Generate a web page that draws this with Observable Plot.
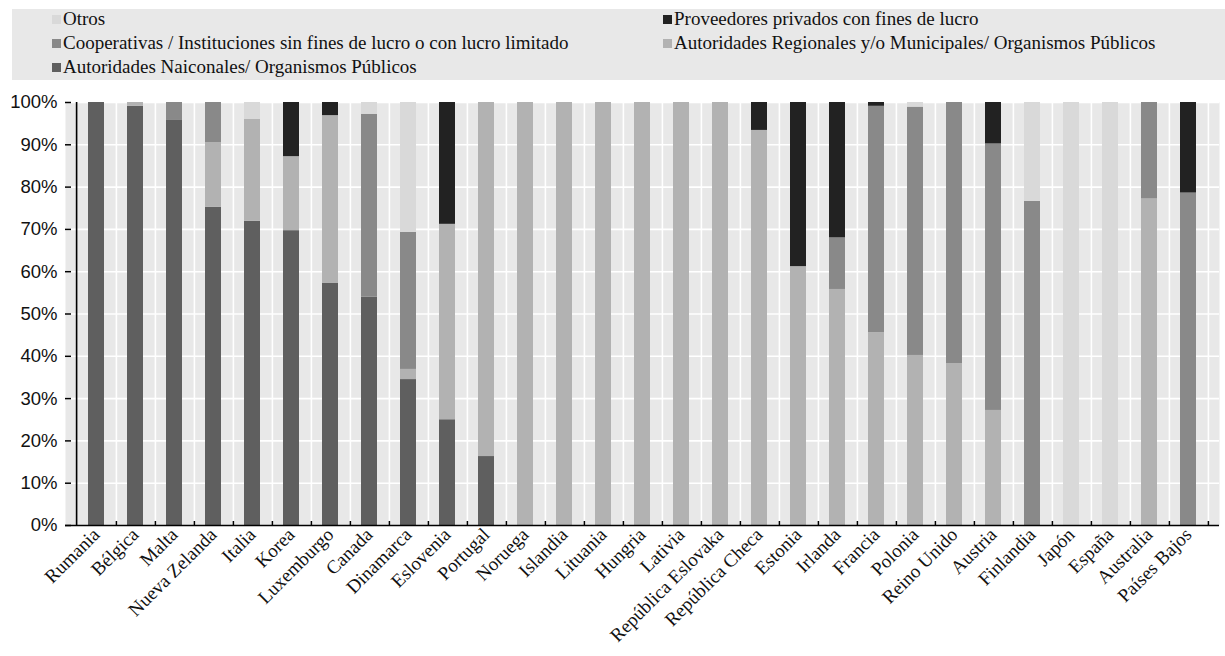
<!DOCTYPE html>
<html>
<head>
<meta charset="utf-8">
<script src="https://cdn.jsdelivr.net/npm/d3@7"></script>
<script src="https://cdn.jsdelivr.net/npm/@observablehq/plot@0.6"></script>
<style>
  html, body { margin: 0; padding: 0; background: #ffffff; }
  #wrap { position: relative; width: 1225px; height: 656px; overflow: hidden; }
  #legend { position: absolute; left: 12px; top: 9px; width: 1213px; height: 71px; background: #e8e8e8;
            font-family: "Liberation Serif", "DejaVu Serif", serif; font-size: 19px; color: #111; }
  .item { position: absolute; display: flex; align-items: center; white-space: nowrap; height: 22px; }
  .sw { width: 9px; height: 9px; margin-right: 2px; display: inline-block; }
  #chart { position: absolute; left: 0; top: 80px; }
</style>
</head>
<body>
<div id="wrap">
  <div id="legend"></div>
  <div id="chart"></div>
</div>
<script>
// ---- Data (percent shares by country) ----
const categories = ["Rumania","Bélgica","Malta","Nueva Zelanda","Italia","Korea","Luxemburgo","Canada","Dinamarca","Eslovenia","Portugal","Noruega","Islandia","Lituania","Hungria","Lativia","República Eslovaka","República Checa","Estonia","Irlanda","Francia","Polonia","Reino Unido","Austria","Finlandia","Japón","España","Australia","Países Bajos"];

const seriesNames = [
  "Autoridades Naiconales/ Organismos Públicos",
  "Autoridades Regionales y/o Municipales/ Organismos Públicos",
  "Cooperativas / Instituciones sin fines de lucro o con lucro limitado",
  "Proveedores privados con fines de lucro",
  "Otros"
];

const nacionales   = [100, 99.1, 95.9, 75.2, 71.9, 69.7, 57.3, 54.0, 34.5, 25.0, 16.3, 0, 0, 0, 0, 0, 0, 0, 0, 0, 0, 0, 0, 0, 0, 0, 0, 0, 0];
const regionales   = [0, 0.9, 0, 15.3, 24.1, 17.5, 39.6, 0, 2.4, 46.2, 83.7, 100, 100, 100, 100, 100, 100, 93.4, 61.2, 55.8, 45.6, 40.2, 38.3, 27.2, 0, 0, 0, 77.2, 0];
const cooperativas = [0, 0, 4.1, 9.5, 0, 0, 0, 43.2, 32.4, 0, 0, 0, 0, 0, 0, 0, 0, 0, 0, 12.2, 53.5, 58.7, 61.7, 63.0, 76.6, 0, 0, 22.8, 78.6];
const privados     = [0, 0, 0, 0, 0, 12.8, 3.1, 0, 0, 28.8, 0, 0, 0, 0, 0, 0, 0, 6.6, 38.8, 32.0, 0.9, 0, 0, 9.8, 0, 0, 0, 0, 21.4];
const otros        = [0, 0, 0, 0, 4.0, 0, 0, 2.8, 30.7, 0, 0, 0, 0, 0, 0, 0, 0, 0, 0, 0, 0, 1.1, 0, 0, 23.4, 100, 100, 0, 0];

const yTicks = [0, 0.1, 0.2, 0.3, 0.4, 0.5, 0.6, 0.7, 0.8, 0.9, 1.0];

// Legend layout order (rows, two columns)
const legendOrder = [
  ["Otros", "Proveedores privados con fines de lucro"],
  ["Cooperativas / Instituciones sin fines de lucro o con lucro limitado", "Autoridades Regionales y/o Municipales/ Organismos Públicos"],
  ["Autoridades Naiconales/ Organismos Públicos"]
];

const colors = ["#5f5f5f", "#b2b2b2", "#898989", "#222222", "#d9d9d9"];

// ---- Build tidy table ----
const valuesBySeries = [nacionales, regionales, cooperativas, privados, otros];
const data = [];
categories.forEach((c, i) => {
  seriesNames.forEach((s, k) => {
    data.push({country: c, series: s, value: valuesBySeries[k][i] / 100});
  });
});

// ---- Legend ----
const legend = document.getElementById("legend");
const colorOf = Object.fromEntries(seriesNames.map((s, k) => [s, colors[k]]));
legendOrder.forEach((row, r) => {
  row.forEach((name, c) => {
    const it = document.createElement("div");
    it.className = "item";
    it.style.left = (c === 0 ? 40 : 651) + "px";
    it.style.top = (-1 + r * 24) + "px";
    const sw = document.createElement("span");
    sw.className = "sw";
    sw.style.background = colorOf[name];
    it.appendChild(sw);
    it.appendChild(document.createTextNode(name));
    legend.appendChild(it);
  });
});

// ---- Chart ----
const W = 1225, H = 576, mL = 65, mR = 6, mT = 22, mB = 131;
const step = (W - mL - mR) / categories.length;

const chart = Plot.plot({
  width: W,
  height: H,
  marginLeft: mL,
  marginRight: mR,
  marginTop: mT,
  marginBottom: mB,
  x: {domain: categories, paddingInner: 0.6, paddingOuter: 0.3, label: null},
  y: {domain: [0, 1], label: null},
  color: {domain: seriesNames, range: colors},
  marks: [
    Plot.frame({fill: "#e8e8e8", stroke: "none"}),
    Plot.ruleY(yTicks.filter(d => d > 0), {stroke: "#ffffff", strokeWidth: 1.6}),
    Plot.ruleX(categories, {x: d => d, dx: step / 2, stroke: "#ffffff", strokeWidth: 1.6}),
    Plot.barY(data, {x: "country", y: "value", fill: "series", order: seriesNames}),
    Plot.ruleY([0], {stroke: "#000", strokeWidth: 1.6}),
    Plot.ruleX([categories[0]], {x: d => d, dx: -step / 2, y1: 0, y2: 1, stroke: "#000", strokeWidth: 1.6}),
    Plot.axisY({ticks: yTicks, tickFormat: d3.format(".0%"), tickSize: 0, tickPadding: 8,
                fontSize: 18.5, fontFamily: "Liberation Sans, Arial, sans-serif", fill: "#111", label: null}),
    Plot.axisY({ticks: yTicks, tickSize: 6, dx: 6, tickFormat: () => "", stroke: "#000", strokeWidth: 1.5, label: null}),
    Plot.axisX({tickSize: 0, tickRotate: -45, tickPadding: 6, fontSize: 19,
                fontFamily: "Liberation Serif, DejaVu Serif, serif", fill: "#111", label: null}),
    Plot.axisX({tickSize: 4, dx: step / 2, dy: -4, tickFormat: () => "", stroke: "#000", strokeWidth: 1.5, label: null})
  ]
});
document.getElementById("chart").appendChild(chart);
</script>
</body>
</html>
